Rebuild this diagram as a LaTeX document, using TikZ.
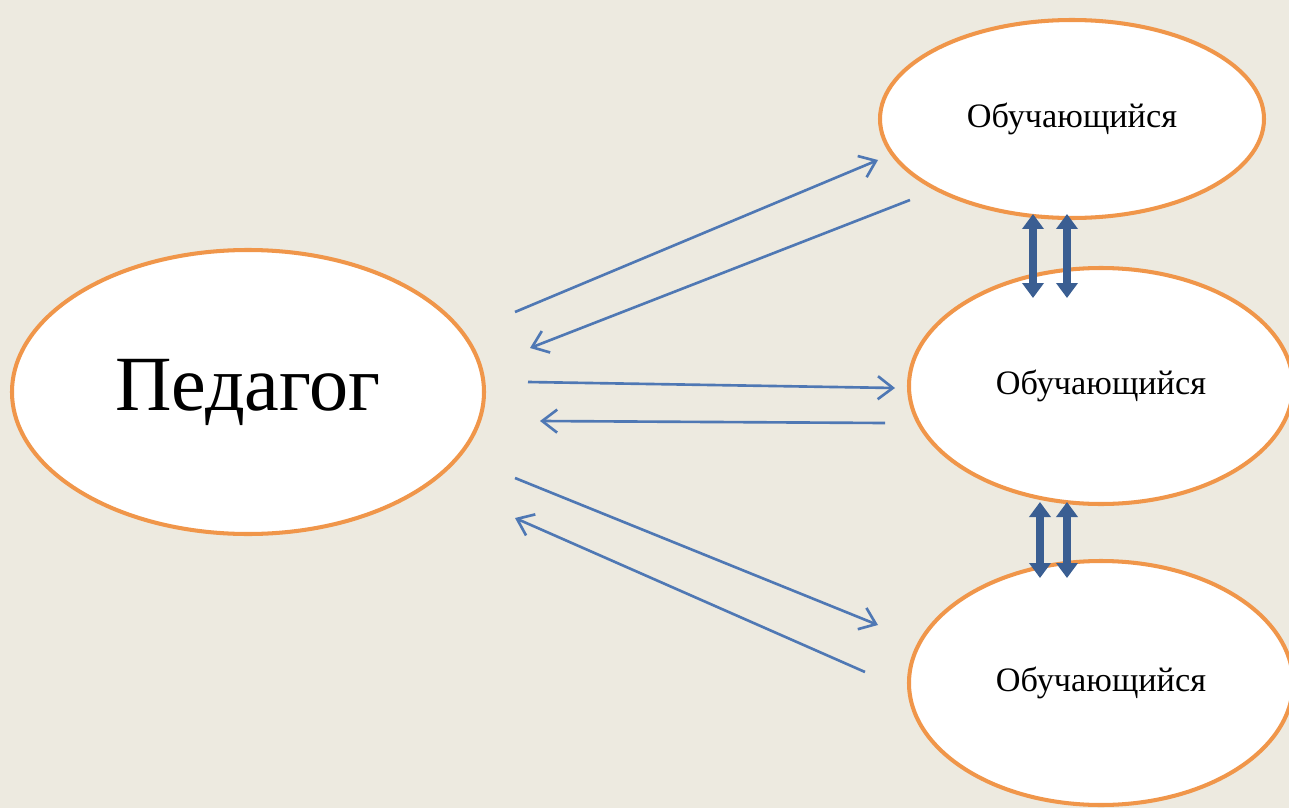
\documentclass[tikz,border=0pt]{standalone}
\usepackage{fontspec}
\setmainfont{Liberation Serif}
\usetikzlibrary{arrows.meta, shapes, positioning}

\definecolor{bgpaper}{HTML}{EDEAE0}
\definecolor{ringorange}{HTML}{F0964A}
\definecolor{linkblue}{HTML}{4F78B4}
\definecolor{fatblue}{HTML}{3A5E92}

\tikzset{
  pupil/.style={ellipse, draw=ringorange, line width=2.3pt, fill=white, inner sep=0pt,
                font=\fontsize{19.5}{24}\selectfont},
  talk/.style={draw=linkblue, line width=1.5pt, -{Straight Barb[length=3mm,width=4.6mm]}},
  peer/.style={draw=fatblue, line width=4pt,
               {Triangle[length=3mm,width=4.2mm]}-{Triangle[length=3mm,width=4.2mm]}}
}

\begin{document}
\begin{tikzpicture}[x=0.02cm, y=-0.02cm]
  \fill[bgpaper] (0,0) rectangle (1289,808);
  \useasboundingbox (0,0) rectangle (1289,808);

  \node[pupil, minimum width=472*0.02cm, minimum height=284*0.02cm,
        font=\fontsize{44.5}{52}\selectfont] (teacher) at (248,392) {\raisebox{-0.06cm}{Педагог}};
  \node[pupil, minimum width=384*0.02cm, minimum height=198*0.02cm] (top) at (1072,119) {Обучающийся};
  \node[pupil, minimum width=384*0.02cm, minimum height=236*0.02cm] (mid) at (1101,386) {Обучающийся};
  \node[pupil, minimum width=384*0.02cm, minimum height=244*0.02cm] (bot) at (1101,683) {Обучающийся};

  % ends of the thin arrows
  \coordinate (t1a) at (515,312);  \coordinate (t1b) at (878,160);
  \coordinate (t2a) at (910,200);  \coordinate (t2b) at (530,348);
  \coordinate (m1a) at (528,382);  \coordinate (m1b) at (895,388);
  \coordinate (m2a) at (885,423);  \coordinate (m2b) at (540,421);
  \coordinate (b1a) at (515,478);  \coordinate (b1b) at (878,625);
  \coordinate (b2a) at (865,672);  \coordinate (b2b) at (515,518);

  \draw[talk] (t1a) to (t1b);
  \draw[talk] (t2a) to (t2b);
  \draw[talk] (m1a) to (m1b);
  \draw[talk] (m2a) to (m2b);
  \draw[talk] (b1a) to (b1b);
  \draw[talk] (b2a) to (b2b);

  % between the pupils
  \coordinate (p1a) at (1033,214);  \coordinate (p1b) at (1033,298);
  \coordinate (p2a) at (1067,214);  \coordinate (p2b) at (1067,298);
  \coordinate (p3a) at (1040,502);  \coordinate (p3b) at (1040,578);
  \coordinate (p4a) at (1067,502);  \coordinate (p4b) at (1067,578);

  \draw[peer] (p1a) to (p1b);
  \draw[peer] (p2a) to (p2b);
  \draw[peer] (p3a) to (p3b);
  \draw[peer] (p4a) to (p4b);
\end{tikzpicture}
\end{document}
